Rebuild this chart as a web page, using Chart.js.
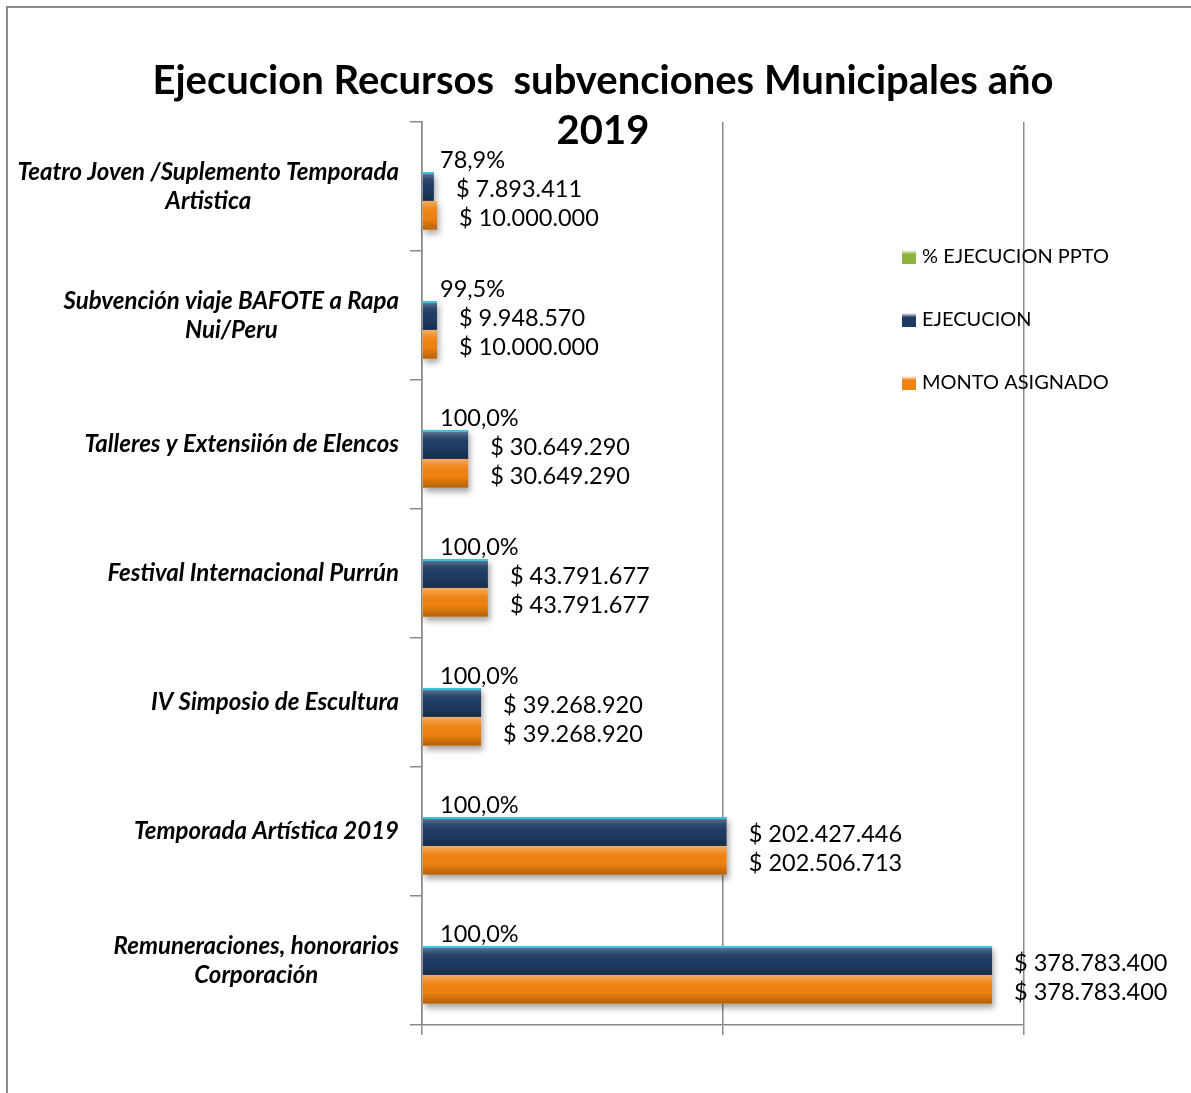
<!DOCTYPE html>
<html>
<head>
<meta charset="utf-8">
<script src="https://cdn.jsdelivr.net/npm/chart.js@4/dist/chart.umd.min.js"></script>
<style>
  html, body { margin: 0; padding: 0; background: #fff; }
  canvas { display: block; }
</style>
</head>
<body>
<canvas id="chart" width="1191" height="1093"></canvas>
<script>
// ---- Data ----
const categories = [
    ['Teatro Joven /Suplemento Temporada', 'Artistica'],
    ['Subvención viaje BAFOTE a Rapa', 'Nui/Peru'],
    ['Talleres y Extensiión de Elencos'],
    ['Festival Internacional Purrún'],
    ['IV Simposio de Escultura'],
    ['Temporada Artística 2019'],
    ['Remuneraciones, honorarios', 'Corporación']
];
const pctEjecucion = [0.789, 0.995, 1, 1, 1, 1, 1];
const ejecucion = [7893411, 9948570, 30649290, 43791677, 39268920, 202427446, 378783400];
const montoAsignado = [10000000, 10000000, 30649290, 43791677, 39268920, 202506713, 378783400];
const seriesNames = ['% EJECUCION PPTO', 'EJECUCION', 'MONTO ASIGNADO'];
const xTicks = [0, 200000000, 400000000];
const titleLines = ['Ejecucion Recursos  subvenciones Municipales año', '2019'];

const FONT = 'Lato, "Open Sans", sans-serif';
const GRID = '#8a8a8a';
const colors = ['#8cb43c', '#1f3b63', '#f0820f'];

function fmtMoney(v) {
    return '$ ' + String(v).replace(/\B(?=(\d{3})+(?!\d))/g, '.');
}
function fmtPct(v) {
    return (v * 100).toFixed(1).replace('.', ',') + '%';
}

// frame around the chart (cut on right/bottom like the original) + title
const framePlugin = {
    id: 'frame',
    beforeDraw(chart) {
        const ctx = chart.ctx;
        ctx.save();
        ctx.strokeStyle = '#8c8c8c';
        ctx.lineWidth = 2;
        ctx.beginPath();
        ctx.moveTo(7, chart.height);
        ctx.lineTo(7, 7);
        ctx.lineTo(chart.width, 7);
        ctx.stroke();
        ctx.restore();
    },
    afterDraw(chart) {
        const ctx = chart.ctx;
        ctx.save();
        ctx.font = 'bold 40px ' + FONT;
        ctx.fillStyle = '#000';
        ctx.textAlign = 'center';
        ctx.textBaseline = 'middle';
        titleLines.forEach(function (t, i) {
            ctx.fillText(t, 603, 81 + i * 50);
        });
        ctx.restore();
    }
};

// soft shadow under bars + bevel shading on top
const barStylePlugin = {
    id: 'barStyle',
    beforeDatasetsDraw(chart) {
        const ctx = chart.ctx;
        ctx.save();
        ctx.shadowColor = 'rgba(0,0,0,0.35)';
        ctx.shadowBlur = 6;
        ctx.shadowOffsetX = 2;
        ctx.shadowOffsetY = 4;
        ctx.fillStyle = '#ffffff';
        [1, 2].forEach(function (di) {
            chart.getDatasetMeta(di).data.forEach(function (el) {
                const p = el.getProps(['x', 'y', 'base', 'height'], true);
                ctx.fillRect(p.base, p.y - p.height / 2, p.x - p.base, p.height);
            });
        });
        ctx.restore();
    },
    afterDatasetsDraw(chart) {
        const ctx = chart.ctx;
        ctx.save();
        [1, 2].forEach(function (di) {
            chart.getDatasetMeta(di).data.forEach(function (el) {
                const p = el.getProps(['x', 'y', 'base', 'height'], true);
                const top = p.y - p.height / 2;
                const g = ctx.createLinearGradient(0, top, 0, top + p.height);
                g.addColorStop(0, 'rgba(255,255,255,0.35)');
                g.addColorStop(0.25, 'rgba(255,255,255,0.08)');
                g.addColorStop(0.6, 'rgba(0,0,0,0)');
                g.addColorStop(1, 'rgba(0,0,0,0.25)');
                ctx.fillStyle = g;
                ctx.fillRect(p.base, top, p.x - p.base, p.height);
                if (di === 1) {
                    ctx.fillStyle = '#3cc4e4';
                    ctx.fillRect(p.base, top, p.x - p.base, 2);
                }
            });
        });
        ctx.restore();
    }
};

// value labels right of each bar
const valueLabelPlugin = {
    id: 'valueLabels',
    afterDatasetsDraw(chart) {
        const ctx = chart.ctx;
        ctx.save();
        ctx.font = '23.5px ' + FONT;
        ctx.fillStyle = '#000';
        ctx.textAlign = 'left';
        ctx.textBaseline = 'middle';
        chart.data.datasets.forEach(function (ds, di) {
            chart.getDatasetMeta(di).data.forEach(function (el, i) {
                const p = el.getProps(['x', 'y'], true);
                const txt = di === 0 ? fmtPct(ds.data[i]) : fmtMoney(ds.data[i]);
                ctx.fillText(txt, p.x + (di === 0 ? 18 : 22), p.y + 3);
            });
        });
        ctx.restore();
    }
};

// category labels: lines centred on each other, block right aligned
const categoryLabelPlugin = {
    id: 'categoryLabels',
    afterDraw(chart) {
        const ctx = chart.ctx;
        const yScale = chart.scales.y;
        const right = 399;
        const lh = 29;
        ctx.save();
        ctx.font = 'italic bold 24px ' + FONT;
        ctx.fillStyle = '#000';
        ctx.textAlign = 'center';
        ctx.textBaseline = 'middle';
        categories.forEach(function (lines, i) {
            const cy = yScale.getPixelForValue(i);
            const w = Math.max.apply(null, lines.map(function (l) { return ctx.measureText(l).width; }));
            const cx = right - w / 2;
            lines.forEach(function (l, k) {
                ctx.fillText(l, cx, cy + (k - (lines.length - 1) / 2) * lh);
            });
        });
        ctx.restore();
    }
};

// legend drawn inside the plot, on the right
const legendPlugin = {
    id: 'insideLegend',
    afterDraw(chart) {
        const ctx = chart.ctx;
        ctx.save();
        ctx.font = '20px ' + FONT;
        ctx.textAlign = 'left';
        ctx.textBaseline = 'middle';
        chart.data.datasets.forEach(function (ds, i) {
            const y = 257 + i * 63;
            const g = ctx.createLinearGradient(0, y - 7, 0, y + 7);
            g.addColorStop(0, '#ffffff');
            g.addColorStop(0.3, colors[i]);
            g.addColorStop(1, colors[i]);
            ctx.fillStyle = g;
            ctx.fillRect(902, y - 7, 14, 14);
            ctx.fillStyle = '#000';
            ctx.fillText(ds.label, 922, y);
        });
        ctx.restore();
    }
};

const ctxChart = document.getElementById('chart').getContext('2d');
new Chart(ctxChart, {
    type: 'bar',
    data: {
        labels: categories,
        datasets: [
            // the % values are tiny on this axis, so the bar is not visible
            { label: seriesNames[0], data: pctEjecucion, backgroundColor: 'rgba(0,0,0,0)', inflateAmount: 0 },
            { label: seriesNames[1], data: ejecucion, backgroundColor: colors[1] },
            { label: seriesNames[2], data: montoAsignado, backgroundColor: colors[2] }
        ]
    },
    options: {
        indexAxis: 'y',
        responsive: false,
        animation: false,
        categoryPercentage: 0.67,
        barPercentage: 1.0,
        layout: {
            padding: { left: 16, right: 167, top: 122, bottom: 0 }
        },
        plugins: {
            legend: { display: false },
            tooltip: { enabled: false },
            title: { display: false }
        },
        scales: {
            x: {
                min: xTicks[0],
                max: xTicks[xTicks.length - 1],
                afterBuildTicks: function (scale) {
                    scale.ticks = xTicks.map(function (v) { return { value: v }; });
                },
                afterFit: function (scale) { scale.height = 68; },
                ticks: { display: false },
                grid: { color: GRID, lineWidth: 1.5, tickLength: 10 },
                border: { color: GRID, width: 1.5 }
            },
            y: {
                afterFit: function (scale) { scale.width = 406; },
                ticks: { display: false },
                grid: { color: GRID, lineWidth: 1.5, drawOnChartArea: false, tickLength: 12, offset: true },
                border: { color: GRID, width: 1.5 }
            }
        }
    },
    plugins: [framePlugin, barStylePlugin, valueLabelPlugin, categoryLabelPlugin, legendPlugin]
});
</script>
</body>
</html>
